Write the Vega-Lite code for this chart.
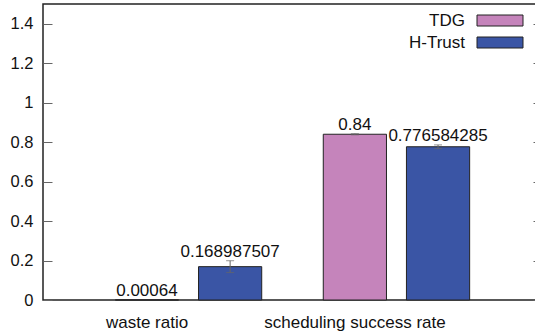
{
  "$schema": "https://vega.github.io/schema/vega-lite/v6.json",
  "width": 499,
  "height": 296,
  "autosize": "none",
  "padding": {"left": 43, "top": 4, "right": -7, "bottom": 31},
  "background": "white",
  "config": {
    "font": "Liberation Sans",
    "view": {"stroke": "#222", "strokeWidth": 1.5},
    "axis": {"labelFont": "Liberation Sans", "labelColor": "#111", "labelFontSize": 17, "grid": false, "domain": false, "title": null, "labelLimit": 400}
  },
  "data": {
    "values": [
      {"metric": "waste ratio", "method": "TDG", "value": 0.00064, "lo": 0.00064, "hi": 0.00064, "label": "0.00064"},
      {"metric": "waste ratio", "method": "H-Trust", "value": 0.168987507, "lo": 0.139, "hi": 0.199, "label": "0.168987507"},
      {"metric": "scheduling success rate", "method": "TDG", "value": 0.84, "lo": 0.837, "hi": 0.843, "label": "0.84"},
      {"metric": "scheduling success rate", "method": "H-Trust", "value": 0.776584285, "lo": 0.767, "hi": 0.786, "label": "0.776584285"}
    ]
  },
  "encoding": {
    "x": {
      "field": "metric",
      "type": "nominal",
      "sort": ["waste ratio", "scheduling success rate"],
      "scale": {"paddingInner": 0.2, "paddingOuter": 0.3},
      "axis": {"labelAngle": 0, "ticks": false, "labelPadding": 14, "labelOffset": -41.5}
    },
    "xOffset": {
      "field": "method",
      "type": "nominal",
      "sort": ["TDG", "H-Trust"],
      "scale": {"paddingInner": 0.24, "paddingOuter": 0.12}
    }
  },
  "layer": [
    {
      "mark": {"type": "bar", "stroke": "#222", "strokeWidth": 1},
      "encoding": {
        "y": {
          "field": "value",
          "type": "quantitative",
          "scale": {"domain": [0, 1.5], "nice": false},
          "axis": {
            "values": [0, 0.2, 0.4, 0.6, 0.8, 1, 1.2, 1.4],
            "format": "~g",
            "offset": -9,
            "tickSize": 9,
            "tickWidth": 1,
            "tickColor": "#666",
            "labelPadding": 10,
            "labelFontSize": 16.5
          }
        },
        "color": {
          "field": "method",
          "type": "nominal",
          "scale": {"domain": ["TDG", "H-Trust"], "range": ["#c584bb", "#3a55a5"]},
          "legend": {
            "title": null,
            "orient": "none",
            "legendX": 448.5,
            "legendY": 8,
            "padding": 0,
            "symbolType": "M-2.875,-0.6875H2.875V0.6875H-2.875Z",
            "symbolSize": 256,
            "symbolStrokeColor": "#222",
            "symbolStrokeWidth": 1,
            "symbolOpacity": 1,
            "labelAlign": "right",
            "labelOffset": -43.5,
            "labelFontSize": 17,
            "labelColor": "#111",
            "rowPadding": 4
          }
        }
      }
    },
    {
      "transform": [{"filter": "datum.hi > datum.lo"}],
      "mark": {"type": "rule", "color": "#666", "strokeWidth": 1},
      "encoding": {
        "y": {"field": "lo", "type": "quantitative", "axis": null},
        "y2": {"field": "hi"}
      }
    },
    {
      "transform": [{"filter": "datum.hi > datum.lo"}],
      "mark": {"type": "tick", "color": "#666", "size": 8, "thickness": 1, "orient": "horizontal"},
      "encoding": {"y": {"field": "lo", "type": "quantitative", "axis": null}}
    },
    {
      "transform": [{"filter": "datum.hi > datum.lo"}],
      "mark": {"type": "tick", "color": "#666", "size": 8, "thickness": 1, "orient": "horizontal"},
      "encoding": {"y": {"field": "hi", "type": "quantitative", "axis": null}}
    },
    {
      "mark": {"type": "text", "baseline": "alphabetic", "dy": -4, "fontSize": 17, "color": "#111"},
      "encoding": {
        "y": {
          "field": "hi",
          "type": "quantitative",
          "axis": {
            "orient": "right",
            "values": [0, 0.2, 0.4, 0.6, 0.8, 1, 1.2, 1.4],
            "labels": false,
            "offset": -9,
            "tickSize": 9,
            "tickWidth": 1,
            "tickColor": "#666"
          }
        },
        "text": {"field": "label", "type": "nominal"}
      }
    }
  ],
  "resolve": {"axis": {"y": "independent"}}
}
